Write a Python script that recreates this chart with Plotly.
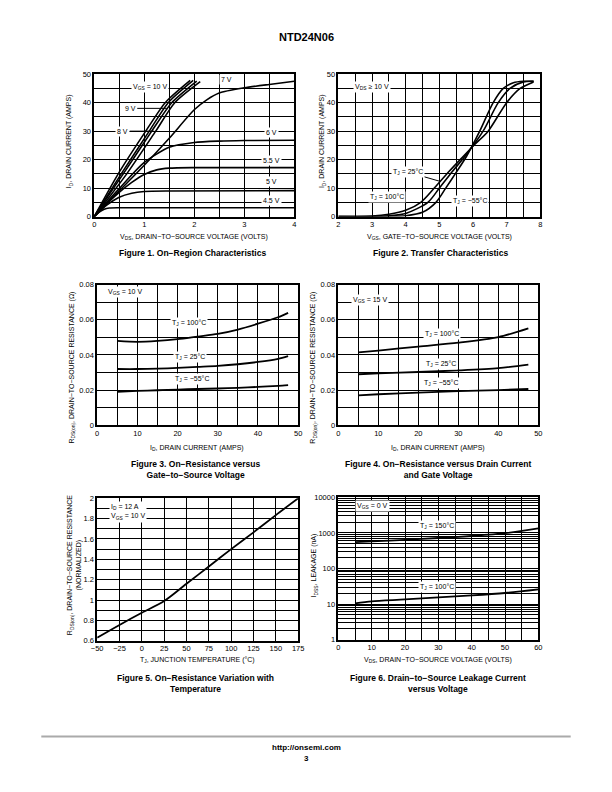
import plotly.graph_objects as go

W, H = 612, 792
FONT = "Liberation Sans, Arial, Helvetica, sans-serif"

# ---------------- Figure 1 : On-Region Characteristics ----------------
f1_vds_10v = [0, 0.48, 1.03, 1.42, 1.92]
f1_id_10v = [0, 15, 30, 40, 47.8]
f1_vds_9v = [0, 0.54, 1.10, 1.48, 1.98]
f1_id_9v = [0, 15, 30, 40, 47.8]
f1_vds_8v = [0, 0.58, 1.15, 1.55, 2.05]
f1_id_8v = [0, 15, 30, 40, 47.6]
f1_vds_75v = [0, 0.65, 1.23, 1.61, 2.12]
f1_id_75v = [0, 15, 30, 40, 47.4]
f1_vds_7v = [0, 0.5, 1.0, 1.5, 2.0, 2.25, 2.5, 3.0, 3.5, 4.0]
f1_id_7v = [0, 9, 18, 27.5, 37.5, 41, 43.4, 45.2, 46.4, 47.5]
f1_vds_6v = [0, 0.25, 0.5, 1.0, 1.5, 2.0, 2.5, 3.0, 4.0]
f1_id_6v = [0, 5, 9.8, 19, 24.3, 26, 26.5, 26.7, 26.8]
f1_vds_55v = [0, 0.25, 0.5, 0.75, 1.0, 1.25, 1.5, 2.0, 4.0]
f1_id_55v = [0, 4.5, 8.5, 12, 14.8, 16.4, 17, 17.2, 17.2]
f1_vds_5v = [0, 0.25, 0.5, 0.75, 1.0, 1.5, 4.0]
f1_id_5v = [0, 4, 6.8, 8.2, 8.8, 9.0, 9.1]
f1_vds_45v = [0, 0.1, 0.2, 0.3, 0.5, 4.0]
f1_id_45v = [0, 1.6, 2.6, 3.0, 3.1, 3.1]

# ---------------- Figure 2 : Transfer Characteristics ----------------
f2_vgs_100 = [2, 2.5, 3, 3.5, 4, 4.45, 4.85, 5.3, 5.7, 6.05, 6.45, 7.0, 7.4, 7.8]
f2_id_100 = [0, 0, 0.15, 0.8, 2.2, 5, 10, 16, 21, 25.3, 30, 40, 45, 47.3]
f2_vgs_25 = [2, 3, 3.5, 4, 4.66, 5.0, 5.4, 5.75, 6.3, 6.75, 7.1, 7.5, 7.8]
f2_id_25 = [0, 0, 0.3, 1.1, 5, 10, 16, 21, 30, 40, 45, 47.3, 47.5]
f2_vgs_m55 = [2, 3.5, 4, 4.5, 4.9, 5.19, 5.5, 5.8, 6.2, 6.6, 6.9, 7.2, 7.5, 7.8]
f2_id_m55 = [0, 0, 0.3, 1.5, 5, 10, 15.5, 21, 30, 40, 45, 47, 47.5, 47.5]

# ---------------- Figure 3 : RDS(on) vs ID, VGS = 10 V ----------------
f3_id = [5, 10, 15, 20, 25, 30, 35, 40, 45, 47.5]
f3_r_100 = [0.048, 0.0475, 0.048, 0.049, 0.0505, 0.052, 0.0545, 0.0578, 0.0615, 0.064]
f3_r_25 = [0.032, 0.032, 0.0322, 0.0326, 0.0332, 0.0338, 0.0347, 0.036, 0.0378, 0.0393]
f3_r_m55 = [0.019, 0.0195, 0.0199, 0.0203, 0.0206, 0.0209, 0.0213, 0.0218, 0.0224, 0.0228]

# ---------------- Figure 4 : RDS(on) vs ID, VGS = 15 V ----------------
f4_id = [5, 10, 20, 30, 40, 47.5]
f4_r_100 = [0.0415, 0.0425, 0.0448, 0.047, 0.0502, 0.0552]
f4_r_25 = [0.029, 0.0295, 0.0303, 0.0312, 0.0325, 0.0345]
f4_r_m55 = [0.017, 0.0176, 0.0185, 0.0194, 0.02, 0.0206]

# ---------------- Figure 5 : normalized RDS(on) vs TJ ----------------
f5_tj = [-50, -25, 0, 25, 50, 75, 100, 125, 150, 175]
f5_rn = [0.63, 0.755, 0.875, 0.99, 1.16, 1.33, 1.50, 1.665, 1.835, 2.0]

# ---------------- Figure 6 : IDSS leakage vs VDS ----------------
f6_vds = [5, 10, 20, 30, 40, 50, 60]
f6_i_150 = [550, 580, 640, 720, 820, 980, 1350]
f6_i_100 = [10.5, 12, 13.5, 15.5, 17.5, 20.5, 26]
f6_ticks = [1, 10, 100, 1000, 10000]
f6_ticktext = ["1", "10", "100", "1000", "10000"]


def px(x):
    return x / W


def py(y):
    return 1 - y / H


fig = go.Figure()


def add_line(xs, ys, ax, smooth=0.8, width=1.8):
    fig.add_trace(go.Scatter(
        x=xs, y=ys, mode="lines", xaxis="x" + ax, yaxis="y" + ax,
        line=dict(color="black", width=width, shape="spline", smoothing=smooth),
        showlegend=False, hoverinfo="skip"))


# Figure 1
for xs, ys in [(f1_vds_10v, f1_id_10v), (f1_vds_9v, f1_id_9v), (f1_vds_8v, f1_id_8v),
               (f1_vds_75v, f1_id_75v), (f1_vds_7v, f1_id_7v), (f1_vds_6v, f1_id_6v),
               (f1_vds_55v, f1_id_55v), (f1_vds_5v, f1_id_5v), (f1_vds_45v, f1_id_45v)]:
    add_line(xs, ys, "", smooth=0.7, width=1.6)
# Figure 2
for xs, ys in [(f2_vgs_100, f2_id_100), (f2_vgs_25, f2_id_25), (f2_vgs_m55, f2_id_m55)]:
    add_line(xs, ys, "2", smooth=0.8, width=1.6)
# Figure 3
for ys in [f3_r_100, f3_r_25, f3_r_m55]:
    add_line(f3_id, ys, "3", width=1.8)
# Figure 4
for ys in [f4_r_100, f4_r_25, f4_r_m55]:
    add_line(f4_id, ys, "4", width=1.8)
# Figure 5
add_line(f5_tj, f5_rn, "5", width=1.8)
# Figure 6
for ys in [f6_i_150, f6_i_100]:
    add_line(f6_vds, ys, "6", width=1.8)

tickfont = dict(family=FONT, size=7.5, color="black")


def axis(domain, rng, dtick, minor=None, tick0=None, anchor=None, **kw):
    d = dict(domain=domain, range=rng, dtick=dtick, showgrid=True, gridcolor="black",
             gridwidth=1, showline=True, linecolor="black", linewidth=1.5, mirror=True,
             ticks="", zeroline=False, tickfont=tickfont, anchor=anchor, fixedrange=True)
    if tick0 is not None:
        d["tick0"] = tick0
    if minor is not None:
        d["minor"] = dict(dtick=minor, showgrid=True, gridcolor="black", gridwidth=1, ticks="")
    d.update(kw)
    return d


r1 = [py(215), py(71)]
r2 = [py(426), py(284)]
r3 = [py(644), py(500)]

fig.update_layout(
    width=W, height=H, autosize=False,
    margin=dict(l=0, r=0, t=0, b=0),
    paper_bgcolor="white", plot_bgcolor="white",
    font=dict(family=FONT, color="black"),
    xaxis=axis([px(90), px(294)], [0, 4], 1, minor=0.5, anchor="y"),
    yaxis=axis(r1, [0, 50], 10, minor=5, anchor="x"),
    xaxis2=axis([px(339), px(545)], [2, 8], 1, minor=0.5, anchor="y2"),
    yaxis2=axis(r1, [0, 50], 10, minor=5, anchor="x2"),
    xaxis3=axis([px(93), px(298)], [0, 50], 10, minor=5, anchor="y3"),
    yaxis3=axis(r2, [0, 0.08], 0.02, minor=0.01, anchor="x3"),
    xaxis4=axis([px(339), px(543)], [0, 50], 10, minor=5, anchor="y4"),
    yaxis4=axis(r2, [0, 0.08], 0.02, minor=0.01, anchor="x4"),
    xaxis5=axis([px(93), px(298)], [-50, 175], 25, tick0=-50, anchor="y5"),
    yaxis5=axis(r3, [0.6, 2.0], 0.2, minor=0.1, tick0=0.6, anchor="x5"),
    xaxis6=axis([px(339), px(543)], [0, 60], 10, minor=5, anchor="y6"),
    yaxis6=dict(domain=[py(643), py(499)], type="log", range=[0, 4],
                tickvals=f6_ticks, ticktext=f6_ticktext, showgrid=True,
                gridcolor="black", gridwidth=1.4, showline=True, linecolor="black",
                linewidth=1.5, mirror=True, ticks="", tickfont=tickfont, anchor="x6",
                fixedrange=True,
                minor=dict(tickvals=[m * 10 ** e for e in range(4) for m in range(2, 10)],
                           showgrid=True, gridcolor="black", gridwidth=0.8, ticks="")),
)

ann = []


def label(text, x, y, ax, size=7, **kw):
    d = dict(text=text, x=x, y=y, xref="x" + ax, yref="y" + ax, showarrow=False,
             bgcolor="white", borderpad=1, xanchor="center", yanchor="middle",
             font=dict(family=FONT, size=size, color="black"))
    d.update(kw)
    ann.append(d)


def pointer(text, x_to, y_to, x_from, y_from, ax, size=7):
    ann.append(dict(text=text, x=x_to, y=y_to, ax=x_from, ay=y_from,
                    xref="x" + ax, yref="y" + ax, axref="x" + ax, ayref="y" + ax,
                    showarrow=True, arrowhead=0, arrowwidth=1, arrowcolor="black",
                    standoff=0, bgcolor="white", borderpad=1,
                    font=dict(family=FONT, size=size, color="black")))


# Figure 1 labels
label("V<sub>GS</sub> = 10 V", 1.11, 45.5, "")
pointer("9 V", 1.45, 38, 0.72, 38, "")
pointer("8 V", 1.2, 30, 0.57, 30, "")
label("7 V", 2.65, 48.2, "")
label("6 V", 3.55, 29.6, "")
label("5.5 V", 3.55, 19.8, "")
label("5 V", 3.55, 12.2, "")
label("4.5 V", 3.55, 5.8, "")
# Figure 2 labels
label("V<sub>DS</sub> ≥ 10 V", 3.0, 45.5, "2")
pointer("T<sub>J</sub> = 25°C", 5.04, 12.3, 4.07, 15.6, "2")
label("T<sub>J</sub> = 100°C", 3.45, 7.0, "2")
label("T<sub>J</sub> = −55°C", 5.9, 5.6, "2")
# Figure 3 labels
label("V<sub>GS</sub> = 10 V", 6.9, 0.0757, "3")
label("T<sub>J</sub> = 100°C", 22.8, 0.058, "3")
label("T<sub>J</sub> = 25°C", 23.2, 0.039, "3")
label("T<sub>J</sub> = −55°C", 23.7, 0.0263, "3")
# Figure 4 labels
label("V<sub>GS</sub> = 15 V", 8.0, 0.0715, "4")
label("T<sub>J</sub> = 100°C", 26, 0.0517, "4")
label("T<sub>J</sub> = 25°C", 25.6, 0.0348, "4")
label("T<sub>J</sub> = −55°C", 25.6, 0.024, "4")
# Figure 5 labels
label("I<sub>D</sub> = 12 A<br>V<sub>GS</sub> = 10 V", -37, 1.87, "5", xanchor="left", align="left")
# Figure 6 labels (log axis -> log10 coordinates)
label("V<sub>GS</sub> = 0 V", 10.3, 3.77, "6")
label("T<sub>J</sub> = 150°C", 29.7, 3.19, "6")
label("T<sub>J</sub> = 100°C", 29.7, 1.49, "6")


def ptext(text, x, y, size=7, bold=False, angle=0, **kw):
    d = dict(text=("<b>%s</b>" % text) if bold else text, x=px(x), y=py(y),
             xref="paper", yref="paper", showarrow=False, textangle=angle,
             xanchor="center", yanchor="middle",
             font=dict(family=FONT, size=size, color="black"))
    d.update(kw)
    ann.append(d)


# axis titles
ptext("V<sub>DS</sub>, DRAIN−TO−SOURCE VOLTAGE (VOLTS)", 192, 236)
ptext("V<sub>GS</sub>, GATE−TO−SOURCE VOLTAGE (VOLTS)", 442, 236)
ptext("I<sub>D</sub>, DRAIN CURRENT (AMPS)", 195, 449)
ptext("I<sub>D</sub>, DRAIN CURRENT (AMPS)", 441, 449)
ptext("T<sub>J</sub>, JUNCTION TEMPERATURE (°C)", 195, 664)
ptext("V<sub>DS</sub>, DRAIN−TO−SOURCE VOLTAGE (VOLTS)", 441, 664)
ptext("I<sub>D</sub>, DRAIN CURRENT (AMPS)", 65, 139, angle=-90)
ptext("I<sub>D</sub>, DRAIN CURRENT (AMPS)", 323, 139, angle=-90)
ptext("R<sub>DS(on)</sub>, DRAIN−TO−SOURCE RESISTANCE (Ω)", 67, 368, angle=-90)
ptext("R<sub>DS(on)</sub>, DRAIN−TO−SOURCE RESISTANCE (Ω)", 313, 368, angle=-90)
ptext("R<sub>DS(on)</sub>, DRAIN−TO−SOURCE RESISTANCE<br>(NORMALIZED)", 70, 568, angle=-90)
ptext("I<sub>DSS</sub>, LEAKAGE (nA)", 314, 568, angle=-90)

# figure captions
ptext("Figure 1. On−Region Characteristics", 190, 252, size=8.5, bold=True)
ptext("Figure 2. Transfer Characteristics", 443, 252, size=8.5, bold=True)
ptext("Figure 3. On−Resistance versus<br>Gate−to−Source Voltage", 193, 471, size=8.5, bold=True)
ptext("Figure 4. On−Resistance versus Drain Current<br>and Gate Voltage", 441, 471, size=8.5, bold=True)
ptext("Figure 5. On−Resistance Variation with<br>Temperature", 193, 687, size=8.5, bold=True)
ptext("Figure 6. Drain−to−Source Leakage Current<br>versus Voltage", 441, 687, size=8.5, bold=True)

# page header / footer
ptext("NTD24N06", 306, 33, size=11, bold=True)
ptext("http://onsemi.com", 306, 752, size=8, bold=True)
ptext("3", 306, 763, size=8, bold=True)

fig.update_layout(annotations=ann,
                  shapes=[dict(type="line", xref="paper", yref="paper",
                               x0=px(36), x1=px(576), y0=py(741), y1=py(741),
                               line=dict(color="#aaaaaa", width=2))])

fig.write_html("out.html", config={"displayModeBar": False},
               post_script="document.body.style.margin='0';")
